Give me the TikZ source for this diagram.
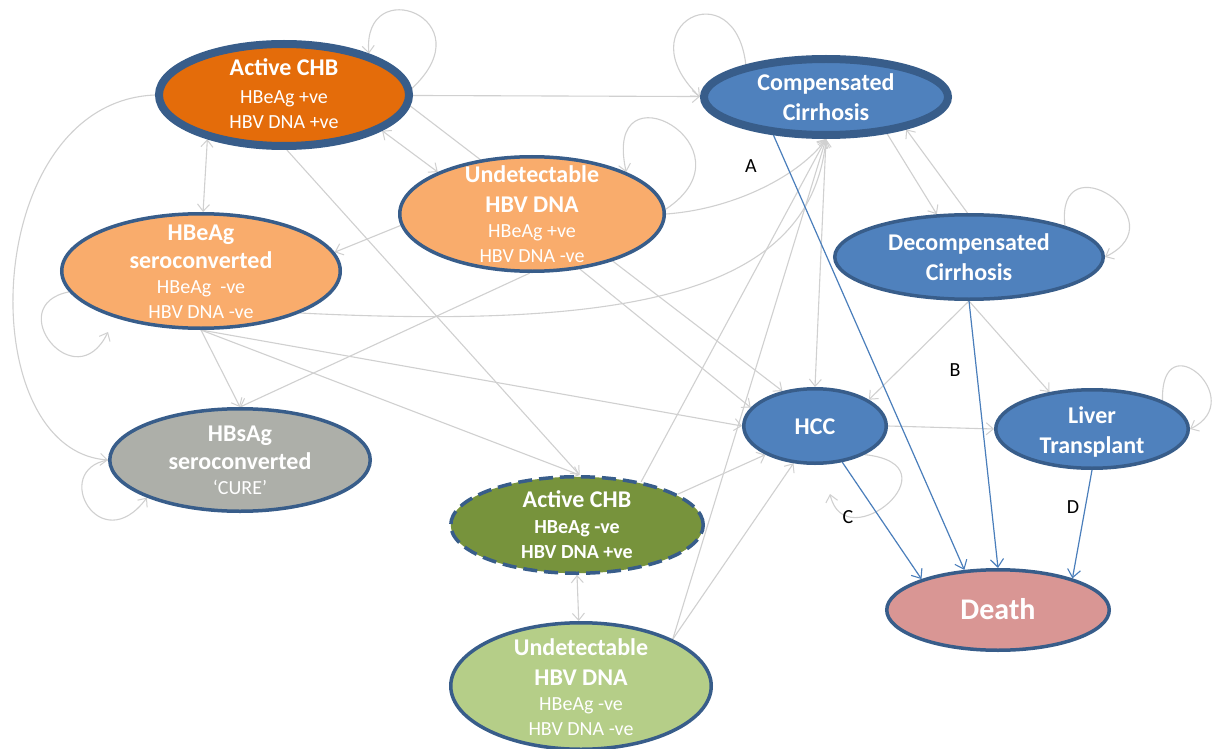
\documentclass[tikz,border=0pt]{standalone}
\usepackage{fontspec}
\setmainfont{Carlito}
\usetikzlibrary{arrows.meta,backgrounds,shapes.geometric}

\definecolor{rim}{HTML}{385D8A}
\definecolor{hotorange}{HTML}{E46C0A}
\definecolor{paleorange}{HTML}{F9AC6C}
\definecolor{stateblue}{HTML}{4F81BD}
\definecolor{stone}{HTML}{ADAFA9}
\definecolor{olivegreen}{HTML}{77933C}
\definecolor{palegreen}{HTML}{B5CE88}
\definecolor{rose}{HTML}{D99694}
\definecolor{wire}{HTML}{D0D0D0}
\definecolor{bluewire}{HTML}{4A7EBB}

\newcommand\statetitle[1]{{\fontsize{24}{30}\selectfont\bfseries #1}}

\begin{document}
\begin{tikzpicture}[x=1pt,y=-1pt,
  state/.style={ellipse, draw=rim, line width=3.5pt, inner sep=0pt},
  heavy/.style={line width=8pt},
  txt/.style={align=center, text=white, inner sep=0pt, font=\fontsize{20}{25}\selectfont},
  lbl/.style={text=black, inner sep=0pt, font=\fontsize{20}{24}\selectfont},
  tip/.style={-{Straight Barb[length=7pt,width=12pt,line width=1pt]}},
  link/.style={draw=wire, line width=1.1pt, tip},
  linkboth/.style={draw=wire, line width=1.1pt,
    {Straight Barb[length=7pt,width=12pt,line width=1pt]}-{Straight Barb[length=7pt,width=12pt,line width=1pt]}},
  blueline/.style={draw=bluewire, line width=1.2pt,
    -{Straight Barb[length=8pt,width=13pt,line width=1.1pt]}}
]
\useasboundingbox (0,0) rectangle (1226,749);

% ---- states ----
\node[state, heavy, fill=hotorange, minimum width=250pt, minimum height=102pt] (achbp) at (284,95) {};
\node[txt] (achbp-t) at (284,94) {\statetitle{Active CHB}\\[3pt] HBeAg +ve\\ HBV DNA +ve};

\node[state, heavy, fill=stateblue, minimum width=244pt, minimum height=76pt] (cc) at (826,97) {};
\node[txt] (cc-t) at (826,97) {\statetitle{Compensated}\\[5pt]\statetitle{Cirrhosis}};

\node[state, fill=paleorange, minimum width=264.5pt, minimum height=114.5pt] (udp) at (532,214) {};
\node[txt] (udp-t) at (532,214) {\statetitle{Undetectable}\\[5pt]\statetitle{HBV DNA}\\ HBeAg +ve\\ HBV DNA -ve};

\node[state, fill=stateblue, minimum width=268.5pt, minimum height=84.5pt] (dc) at (969,257) {};
\node[txt] (dc-t) at (969,257) {\statetitle{Decompensated}\\[5pt]\statetitle{Cirrhosis}};

\node[state, fill=paleorange, minimum width=278.5pt, minimum height=114.5pt] (hbe) at (201,271) {};
\node[txt] (hbe-t) at (201,272) {\statetitle{HBeAg}\\[3pt]\statetitle{seroconverted}\\ HBeAg\ \ -ve\\ HBV DNA -ve};

\node[state, fill=stone, minimum width=260.5pt, minimum height=102.5pt] (hbs) at (240,460) {};
\node[txt] (hbs-t) at (240,460) {\statetitle{HBsAg}\\[3pt]\statetitle{seroconverted}\\ ‘CURE’};

\node[state, fill=stateblue, minimum width=142.5pt, minimum height=74.5pt] (hcc) at (815,426) {};
\node[txt] (hcc-t) at (815,427) {\statetitle{HCC}};

\node[state, fill=stateblue, minimum width=192.5pt, minimum height=78.5pt] (lt) at (1092,429) {};
\node[txt] (lt-t) at (1092,432) {\statetitle{Liver}\\[5pt]\statetitle{Transplant}};

\node[state, fill=olivegreen, dash pattern=on 14pt off 7pt, minimum width=252.5pt, minimum height=96.5pt] (achbn) at (577,525) {};
\node[txt, font=\fontsize{20}{25}\selectfont\bfseries] (achbn-t) at (577,525) {\statetitle{Active CHB}\\[1pt] HBeAg -ve\\ HBV DNA +ve};

\node[state, fill=palegreen, minimum width=260.5pt, minimum height=126.5pt] (udn) at (581,686) {};
\node[txt] (udn-t) at (581,687) {\statetitle{Undetectable}\\[5pt]\statetitle{HBV DNA}\\ HBeAg -ve\\ HBV DNA -ve};

\node[state, fill=rose, minimum width=222.5pt, minimum height=80.5pt] (death) at (998,610) {};
\node[txt] (death-t) at (998,609) {{\fontsize{30}{36}\selectfont\bfseries Death}};

% free ends of the two loops that stop short of their state
\coordinate (hbeloop) at (108,332);
\coordinate (hccloop) at (830,494);

% ---- pathway labels ----
\node[lbl] (la) at (751,166) {A};
\node[lbl] (lb) at (955,370) {B};
\node[lbl] (lc) at (848,517) {C};
\node[lbl] (ld) at (1073,507) {D};

% ---- transitions, drawn behind the states ----
\begin{scope}[on background layer]
\fill[white] (0,0) rectangle (1226,749);

% from active CHB (HBeAg +ve)
\draw[link] (achbp.3) .. controls +(75,-70) and +(-7,-82) .. (achbp.26);
\draw[link] (achbp) -- (cc);
\draw[linkboth] (achbp.-20) -- (udp.156);
\draw[link] (achbp.-5) -- (hcc.133);
\draw[linkboth] (achbp.-150) -- (hbe.88);
\draw[link] (achbp.west) .. controls +(-175,7) and +(-138,-10) .. (hbs.west);
\draw[link] (achbp.-87) -- (achbn.87);

% from undetectable HBV DNA (HBeAg +ve)
\draw[link] (udp.2) .. controls +(94,-62) and +(-25,-112) .. (udp.24);
\draw[link] (udp.east) .. controls +(70,-5) and +(-25,35) .. (cc.-90);
\draw[link] (udp.-175) -- (hbe.8);
\draw[link] (udp.-92) -- (hbs.north);
\draw[link] (udp.-49) -- (hcc.164);

% from HBeAg seroconverted
\draw[link] (hbe.-23) .. controls +(340,17) and +(-15,151) .. (cc.-90);
\draw[link] (hbe.-171) .. controls +(-68,13) and +(-33,68) .. (hbeloop);
\draw[link] (hbe.south) -- (hbs.north);
\draw[link] (hbe.south) -- (hcc.west);
\draw[link] (hbe.south) -- (achbn.87);

% HBsAg seroconverted stays
\draw[link] (hbs.west) .. controls +(-58,10) and +(-47,63) .. (hbs.-158);

% cirrhosis states
\draw[link] (cc.158) .. controls +(-11,-95) and +(-75,-72) .. (cc.west);
\draw[link] (cc.-31) -- (dc.127);
\draw[link] (dc.92) -- (cc.-22);
\draw[link] (cc.south) -- (hcc.north);
\draw[link] (dc.18) .. controls +(-10,-86) and +(75,-37) .. (dc.east);
\draw[link] (dc.south) -- (hcc.26);
\draw[link] (dc.south) -- (lt.139);

% HCC and transplant
\draw[link] (hcc.east) -- (lt.west);
\draw[link] (hcc.-30) .. controls +(95,10) and +(15,66) .. (hccloop);
\draw[link] (lt.22) .. controls +(-2,-80) and +(60,-29) .. (lt.east);

% HBeAg negative states
\draw[link] (achbn.34) -- (cc.-90);
\draw[link] (achbn.17) -- (hcc.-150);
\draw[linkboth] (achbn.south) -- (udn.92);
\draw[link] (udn.27) -- (cc.-90);
\draw[link] (udn.27) -- (hcc.-120);

% transitions to death
\draw[blueline] (cc.-144) -- (death.130);
\draw[blueline] (dc.south) -- (death.north);
\draw[blueline] (hcc.-53) -- (death.158);
\draw[blueline] (lt.south) -- (death.23);
\end{scope}
\end{tikzpicture}
\end{document}
